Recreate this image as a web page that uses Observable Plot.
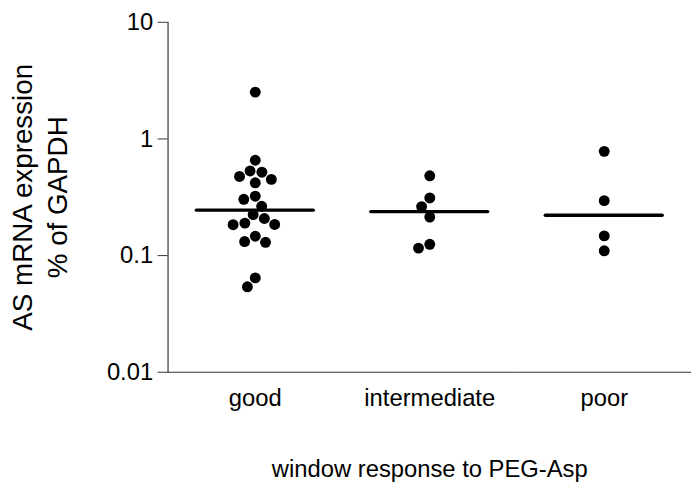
<!DOCTYPE html>
<html><head><meta charset="utf-8">
<script src="https://cdn.jsdelivr.net/npm/d3@7"></script>
<script src="https://cdn.jsdelivr.net/npm/@observablehq/plot@0.6"></script>
<style>html,body{margin:0;padding:0;background:#fff;overflow:hidden}</style>
</head><body><div id="chart"></div>
<script>
const categories = ["good", "intermediate", "poor"];
const goodValues = [2.52, 0.657, 0.532, 0.519, 0.477, 0.450, 0.421, 0.323, 0.304, 0.265, 0.225, 0.208, 0.190, 0.185, 0.184, 0.1465, 0.132, 0.130, 0.0644, 0.054];
const intermediateValues = [0.483, 0.312, 0.263, 0.214, 0.125, 0.116];
const poorValues = [0.783, 0.296, 0.1476, 0.110];
const yTicks = [0.01, 0.1, 1, 10];
const yLabel1 = "AS mRNA expression";
const yLabel2 = "% of GAPDH";
const xLabel = "window response to PEG-Asp";

const groups = [goodValues, intermediateValues, poorValues];
const data = [];
categories.forEach((c, i) => groups[i].forEach(v => data.push({cat: c, value: v})));

const axisColor = "#333";
const chart = Plot.plot({
  width: 697, height: 487,
  marginLeft: 168, marginRight: 0, marginTop: 22, marginBottom: 112,
  style: {fontFamily: "'Liberation Sans', Arial, sans-serif", fontSize: "24px", color: "#000", background: "#fff"},
  fx: {domain: categories, padding: 0},
  y: {type: "log", domain: [0.01, 10]},
  marks: [
    Plot.axisY({ticks: yTicks, tickFormat: d => String(d), tickSize: 10, tickPadding: 5, fontSize: 24, label: null, stroke: axisColor, fill: "#000"}),
    Plot.axisFx({anchor: "bottom", tickSize: 0, tickPadding: 17, fontSize: 24, label: xLabel, labelAnchor: "center", labelOffset: 106, fill: "#000"}),
    Plot.frame({anchor: "left", facetAnchor: "left", stroke: axisColor, strokeWidth: 1.2}),
    Plot.ruleY([0.01], {stroke: axisColor, strokeWidth: 1.2}),
    Plot.ruleY(data, Plot.groupZ({y: "median"}, {fx: "cat", y: "value", stroke: "#000", strokeWidth: 3.3, insetLeft: 29, insetRight: 29, strokeLinecap: "round"})),
    Plot.dot(data, Plot.dodgeX("middle", {fx: "cat", y: "value", r: 5.5, padding: 5, fill: "#000", stroke: "none"})),
    Plot.text([yLabel1], {frameAnchor: "left", facetAnchor: "left", rotate: -90, dx: -137, lineAnchor: "bottom", textAnchor: "middle", fontSize: 28, fill: "#000"}),
    Plot.text([yLabel2], {frameAnchor: "left", facetAnchor: "left", rotate: -90, dx: -102, lineAnchor: "bottom", textAnchor: "middle", fontSize: 28, fill: "#000"})
  ]
});
document.getElementById("chart").appendChild(chart);
</script>
</body></html>
